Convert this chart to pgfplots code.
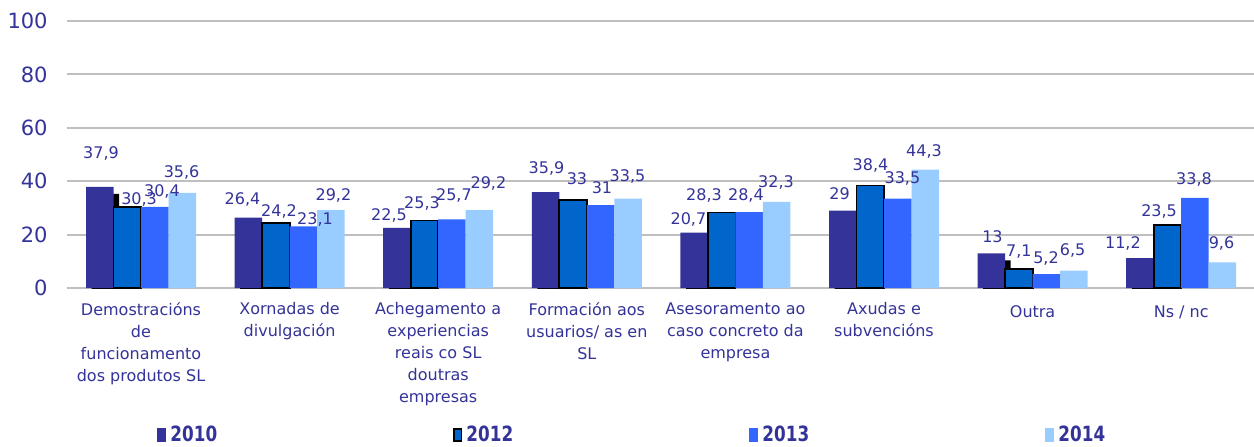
\documentclass[border=0pt]{standalone}
\usepackage{fontspec}
\setmainfont{DejaVu Sans}
\newfontfamily\legfont[FakeStretch=0.8]{DejaVu Sans Bold}
\usepackage{pgfplots}
\pgfplotsset{compat=1.18}
\usepackage{pgfplotstable}
\definecolor{c2010}{HTML}{333399}
\definecolor{c2012}{HTML}{0066CC}
\definecolor{c2013}{HTML}{3366FF}
\definecolor{c2014}{HTML}{99CCFF}
\definecolor{txt}{HTML}{333399}
\definecolor{gridc}{HTML}{BFBFBF}

\pgfplotstableread{
x y2010 y2012 y2013 y2014
0 37.9 30.3 30.4 35.6
1 26.4 24.2 23.1 29.2
2 22.5 25.3 25.7 29.2
3 35.9 33 31 33.5
4 20.7 28.3 28.4 32.3
5 29 38.4 33.5 44.3
6 13 7.1 5.2 6.5
7 11.2 23.5 33.8 9.6
}\datatable

\pgfplotstableread{
x y lab
-0.269 50.2 37,9
-0.013 33.0 30,3
0.141 36.3 30,4
0.273 43.4 35,6
0.683 33.3 26,4
0.929 28.8 24,2
1.171 25.8 23,1
1.295 34.5 29,2
1.669 27.3 22,5
1.891 31.6 25,3
2.106 34.8 25,7
2.338 39.0 29,2
2.729 44.8 35,9
2.934 40.8 33
3.102 37.6 31
3.274 41.6 33,5
3.684 25.7 20,7
3.789 34.5 28,3
4.071 34.6 28,4
4.273 39.7 32,3
4.701 35.4 29
4.909 45.9 38,4
5.124 41.0 33,5
5.269 51.3 44,3
5.730 19.1 13
5.908 13.7 7,1
6.090 11.0 5,2
6.269 13.9 6,5
6.608 16.7 11,2
6.851 28.8 23,5
7.086 40.8 33,8
7.271 16.7 9,6
}\labeltable

\begin{document}
\begin{tikzpicture}
\useasboundingbox (0,0) rectangle (627pt,223pt);
\begin{axis}[
  at={(33.35pt,79pt)}, anchor=south west,
  scale only axis, width=593.65pt, height=133.5pt,
  xmin=-0.5, xmax=7.49, ymin=0, ymax=100,
  axis line style={draw=none},
  ymajorgrids, grid style={draw=gridc, line width=1pt},
  major tick length=0pt,
  xtick style={draw=none}, ytick style={draw=none},
  ytick={0,20,...,100},
  xtick={0,...,7},
  xticklabels={{Demostracións\\de\\funcionamento\\dos produtos SL},
    {Xornadas de\\divulgación},
    {Achegamento a\\experiencias\\reais co SL\\doutras\\empresas},
    {Formación aos\\usuarios/ as en\\SL},
    {Asesoramento ao\\caso concreto da\\empresa},
    {Axudas e\\subvencións},
    {Outra},
    {Ns / nc}},
  xticklabel style={align=center, anchor=north, yshift=-7.1pt, inner sep=0pt,
    execute at begin node={\vphantom{Ó}},
    font=\fontsize{8}{11}\selectfont, text=txt},
  yticklabel style={anchor=east, inner sep=0pt, xshift=-9.35pt,
    font=\fontsize{10.5}{12}\selectfont, text=txt},
  /pgf/number format/assume math mode=true,
  bar width=13.75pt,
  legend columns=4,
  legend style={at={(rel axis cs:0.0761,-0.5506)}, anchor=west,
    draw=none, fill=none, inner sep=0pt, column sep=0pt,
    nodes={inner sep=0pt},
    /tikz/every odd column/.append style={column sep=2pt},
    font=\legfont\fontsize{10.5}{12}\selectfont, text=txt},
  legend cell align=left,
]
\addplot[ybar, forget plot, bar shift=-20.625pt, fill=black, draw=none,
  xshift=2.8pt, yshift=-3.5pt] table[x=x, y=y2010] {\datatable};
\addplot[ybar, bar shift=-20.625pt, fill=c2010, draw=none,
  legend image code/.code={\fill[c2010] (0pt,-3.5pt) rectangle (4.5pt,3.5pt);}]
  table[x=x, y=y2010] {\datatable};
\addlegendentry{\makebox[141.5pt][l]{2010}}
\addplot[ybar, bar shift=-6.875pt, fill=c2012, draw=black, line width=0.9pt,
  legend image code/.code={\draw[fill=c2012, draw=black, line width=0.9pt] (0.45pt,-3.05pt) rectangle (4.05pt,3.05pt);}]
  table[x=x, y=y2012] {\datatable};
\addlegendentry{\makebox[141.5pt][l]{2012}}
\addplot[ybar, bar shift=6.875pt, fill=c2013, draw=none,
  legend image code/.code={\fill[c2013] (0pt,-3.5pt) rectangle (4.5pt,3.5pt);}]
  table[x=x, y=y2013] {\datatable};
\addlegendentry{\makebox[141.5pt][l]{2013}}
\addplot[ybar, bar shift=20.625pt, fill=c2014, draw=none,
  legend image code/.code={\fill[c2014] (0pt,-3.5pt) rectangle (4.5pt,3.5pt);}]
  table[x=x, y=y2014] {\datatable};
\addlegendentry{2014}
\addplot[forget plot, only marks, mark=none, nodes near coords,
  point meta=explicit symbolic,
  nodes near coords style={anchor=center, inner sep=0pt,
    font=\fontsize{8}{9}\selectfont, text=txt}]
  table[x=x, y=y, meta=lab] {\labeltable};
\end{axis}
\end{tikzpicture}
\end{document}
